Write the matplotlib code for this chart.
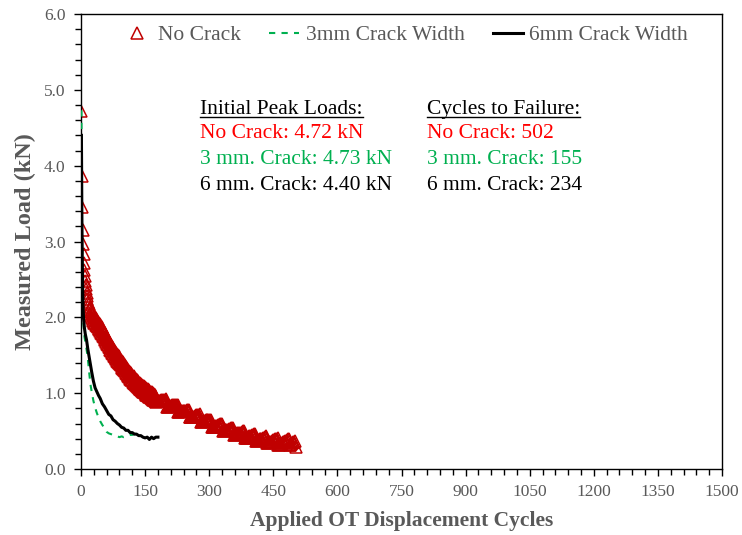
import matplotlib
matplotlib.use("Agg")
import matplotlib.pyplot as plt
from matplotlib.ticker import MultipleLocator, FormatStrFormatter
from matplotlib.lines import Line2D

plt.rcParams['font.family'] = ['Liberation Serif', 'DejaVu Serif']

# ---------------- data ----------------
# No Crack: cycles 1-16, 18, every cycle 20-175, then every 2nd cycle to 502
nc_cycles = ([1, 2, 3, 4, 5, 6, 7, 8, 9, 10, 11, 12, 13, 14, 15, 16, 18]
             + list(range(20, 176))
             + list(range(176, 501, 2)) + [502])
nc_load = [4.72, 3.86, 3.45, 3.15, 2.97, 2.83, 2.72, 2.63, 2.55, 2.48, 2.42, 2.37, 2.32, 2.28, 2.24, 2.20, 2.17,
           # cycles 20-175
           2.14, 2.05, 2.11, 2.02, 2.08, 1.99, 2.06, 1.97, 2.04, 1.95, 2.02, 1.93, 2.00, 1.92, 1.99, 1.90,
           1.97, 1.88, 1.96, 1.87, 1.94, 1.85, 1.92, 1.84, 1.91, 1.82, 1.89, 1.80, 1.87, 1.78, 1.85, 1.76,
           1.83, 1.74, 1.81, 1.72, 1.79, 1.70, 1.76, 1.67, 1.74, 1.65, 1.72, 1.63, 1.70, 1.61, 1.68, 1.59,
           1.66, 1.57, 1.64, 1.55, 1.62, 1.53, 1.60, 1.51, 1.58, 1.49, 1.57, 1.48, 1.55, 1.46, 1.53, 1.45,
           1.52, 1.43, 1.50, 1.41, 1.49, 1.40, 1.47, 1.38, 1.45, 1.37, 1.44, 1.35, 1.42, 1.33, 1.41, 1.32,
           1.39, 1.30, 1.37, 1.29, 1.36, 1.27, 1.34, 1.25, 1.33, 1.24, 1.31, 1.22, 1.29, 1.21, 1.28, 1.19,
           1.26, 1.18, 1.25, 1.17, 1.24, 1.15, 1.23, 1.14, 1.22, 1.13, 1.20, 1.12, 1.19, 1.11, 1.18, 1.09,
           1.17, 1.08, 1.16, 1.07, 1.14, 1.06, 1.13, 1.05, 1.12, 1.04, 1.11, 1.03, 1.10, 1.02, 1.10, 1.01,
           1.09, 1.00, 1.08, 0.99, 1.07, 0.98, 1.06, 0.97, 1.05, 0.96, 1.04, 0.95, 1.03, 0.95, 1.02, 0.94,
           1.01, 0.93, 1.01, 0.92, 1.00, 0.91, 0.99, 0.91, 0.98, 0.90, 0.97, 0.89,
           # cycles 176-500 (every 2nd), 502
           0.90, 0.90, 0.90, 0.90, 0.90, 0.90, 0.91, 0.91, 0.91, 0.91, 0.91, 0.91, 0.92,
           0.82, 0.82, 0.83, 0.83, 0.83, 0.83, 0.84, 0.84, 0.84, 0.84, 0.84, 0.85, 0.85,
           0.75, 0.75, 0.76, 0.76, 0.76, 0.76, 0.77, 0.77, 0.77, 0.77, 0.78, 0.78, 0.78,
           0.68, 0.68, 0.69, 0.69, 0.69, 0.69, 0.70, 0.70, 0.71, 0.71, 0.71, 0.71, 0.72,
           0.62, 0.62, 0.63, 0.63, 0.63, 0.63, 0.64, 0.64, 0.64, 0.64, 0.65, 0.65, 0.65,
           0.56, 0.56, 0.56, 0.56, 0.57, 0.57, 0.57, 0.58, 0.58, 0.58, 0.59, 0.59, 0.60,
           0.50, 0.50, 0.51, 0.51, 0.52, 0.52, 0.52, 0.53, 0.53, 0.53, 0.54, 0.54, 0.54,
           0.45, 0.45, 0.46, 0.46, 0.47, 0.47, 0.48, 0.48, 0.48, 0.49, 0.49, 0.50, 0.50,
           0.41, 0.41, 0.41, 0.42, 0.42, 0.43, 0.43, 0.44, 0.45, 0.45, 0.45, 0.46, 0.46,
           0.37, 0.37, 0.38, 0.38, 0.39, 0.39, 0.40, 0.40, 0.41, 0.41, 0.42, 0.42, 0.43,
           0.34, 0.34, 0.35, 0.35, 0.36, 0.36, 0.37, 0.38, 0.38, 0.39, 0.39, 0.40, 0.41,
           0.31, 0.32, 0.33, 0.33, 0.34, 0.35, 0.35, 0.36, 0.37, 0.37, 0.38, 0.39, 0.39,
           0.31, 0.32, 0.33, 0.34, 0.35, 0.36, 0.37, 0.29]

c3_cycles = [1, 2, 3, 4, 5, 6, 8, 10, 13, 16, 19, 22, 25, 29, 33, 37, 41, 45, 50, 55, 60, 65,
             70, 75, 80, 85, 90, 95, 100, 105, 110, 115, 120, 125, 130, 135, 140]
c3_load = [4.73, 3.50, 2.80, 2.35, 2.05, 1.90, 1.75, 1.68, 1.58, 1.46, 1.28, 1.12, 1.02, 0.90, 0.81, 0.74, 0.68, 0.63, 0.58, 0.54, 0.49, 0.47,
           0.46, 0.45, 0.44, 0.43, 0.42, 0.43, 0.42, 0.43, 0.44, 0.45, 0.45, 0.46, 0.47, 0.47, 0.48]

c6_cycles = [1, 2, 3, 4, 5, 6, 8, 10, 13, 16, 19, 22, 25, 29, 33, 37, 41, 45, 50, 55, 60, 65,
             70, 75, 80, 85, 90, 95, 100, 105, 110, 115, 120, 125, 130, 135, 140, 145, 150,
             155, 160, 165, 170, 175, 180]
c6_load = [4.40, 3.40, 2.75, 2.35, 2.10, 1.98, 1.86, 1.78, 1.70, 1.58, 1.48, 1.38, 1.28, 1.16, 1.07, 1.02, 0.97, 0.93, 0.86, 0.82, 0.77, 0.72,
           0.70, 0.65, 0.63, 0.60, 0.58, 0.55, 0.54, 0.51, 0.51, 0.48, 0.48, 0.46, 0.46, 0.44, 0.44, 0.42, 0.41,
           0.42, 0.39, 0.42, 0.40, 0.42, 0.42]

series_labels = ["No Crack", "3mm Crack Width", "6mm Crack Width"]
peak_header = "Initial Peak Loads:"
peak_lines = ["No Crack: 4.72 kN", "3 mm. Crack: 4.73 kN", "6 mm. Crack: 4.40 kN"]
fail_header = "Cycles to Failure:"
fail_lines = ["No Crack: 502", "3 mm. Crack: 155", "6 mm. Crack: 234"]

# ---------------- figure ----------------
fig = plt.figure(figsize=(7.42, 5.35), dpi=100)
ax = fig.add_axes([81/742, 66/535, 641/742, 455/535])

gray = '#595959'
red_m = '#C00000'
green = '#00B050'

ax.plot(nc_cycles, nc_load, linestyle='none', marker='^',
        markersize=8, markerfacecolor='none', markeredgecolor=red_m, markeredgewidth=1.1,
        label=series_labels[0], zorder=2)
ax.plot(c3_cycles, c3_load, linestyle=(0, (3, 3)), color=green, linewidth=1.5,
        label=series_labels[1], zorder=3)
ax.plot(c6_cycles, c6_load, linestyle='-', color='black', linewidth=2.2,
        label=series_labels[2], zorder=4)

ax.set_xlim(0, 1500)
ax.set_ylim(0, 6.0)
ax.xaxis.set_major_locator(MultipleLocator(150))
ax.xaxis.set_minor_locator(MultipleLocator(30))
ax.yaxis.set_major_locator(MultipleLocator(1.0))
ax.yaxis.set_minor_locator(MultipleLocator(0.2))
ax.yaxis.set_major_formatter(FormatStrFormatter('%.1f'))

ax.tick_params(axis='both', which='major', direction='out', length=5, width=1,
               labelsize=12.5, labelcolor=gray, pad=6)
ax.tick_params(axis='both', which='minor', direction='out', length=4, width=1)
ax.tick_params(top=False, right=False, which='both')
for s in ax.spines.values():
    s.set_color('black')
    s.set_linewidth(1.0)

ax.set_xlabel("Applied OT Displacement Cycles", fontsize=15.5, fontweight='bold',
              color=gray, labelpad=8)
ax.set_ylabel("Measured Load (kN)", fontsize=17.5, fontweight='bold',
              color=gray, labelpad=6)

leg = ax.legend(loc='upper center', bbox_to_anchor=(0.505, 1.018), ncol=3, frameon=False,
                fontsize=15.5, handlelength=1.4, handletextpad=0.3, columnspacing=1.3,
                labelcolor=gray)

# annotation block
fs = 15.5
x1 = (200 - 81) / 641
x2 = (427 - 81) / 641
ys = [4.74, 4.42, 4.08, 3.74]
cols = ['#FF0000', green, 'black']
h1 = ax.text(x1, ys[0], peak_header, transform=ax.get_yaxis_transform(), fontsize=fs,
             color='black', va='center', ha='left')
h2 = ax.text(x2, ys[0], fail_header, transform=ax.get_yaxis_transform(), fontsize=fs,
             color='black', va='center', ha='left')
for i in range(3):
    ax.text(x1, ys[i + 1], peak_lines[i], transform=ax.get_yaxis_transform(), fontsize=fs,
            color=cols[i], va='center', ha='left')
    ax.text(x2, ys[i + 1], fail_lines[i], transform=ax.get_yaxis_transform(), fontsize=fs,
            color=cols[i], va='center', ha='left')

# underline the headers
fig.canvas.draw()
r = fig.canvas.get_renderer()
inv = fig.transFigure.inverted()
for h in (h1, h2):
    bb = h.get_window_extent(renderer=r)
    (x0f, y0f) = inv.transform((bb.x0, bb.y0 + 2))
    (x1f, _) = inv.transform((bb.x1, bb.y0))
    fig.add_artist(Line2D([x0f, x1f], [y0f, y0f], color='black', linewidth=1.0,
                          transform=fig.transFigure))

fig.savefig("out.png", dpi=100)
